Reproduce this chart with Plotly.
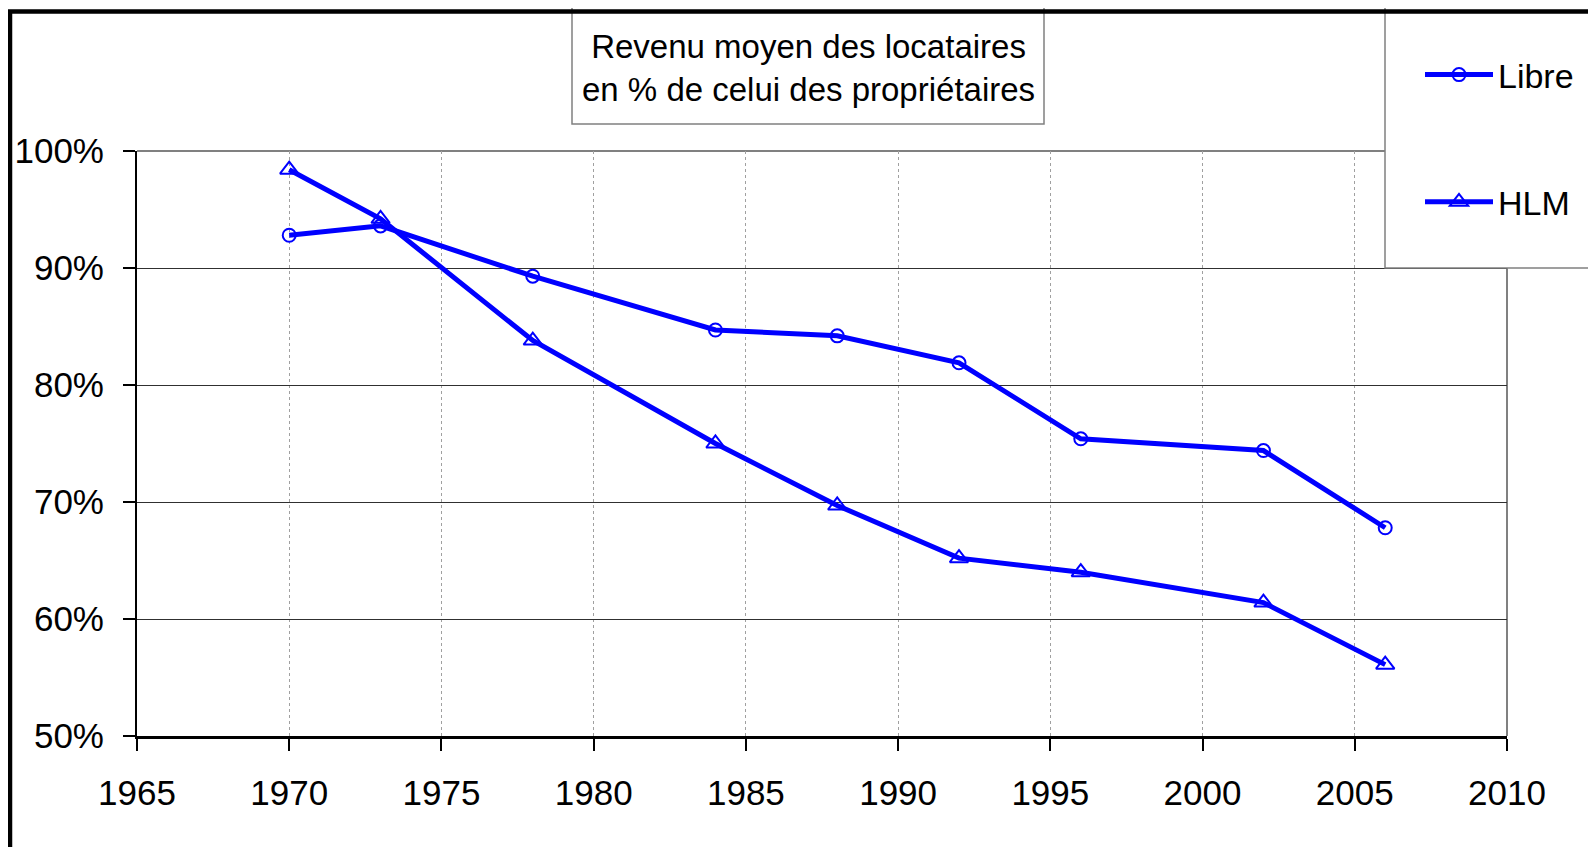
import plotly.graph_objects as go

years = [1970, 1973, 1978, 1984, 1988, 1992, 1996, 2002, 2006]
libre = [92.8, 93.6, 89.3, 84.7, 84.2, 81.9, 75.4, 74.4, 67.8]
hlm = [98.4, 94.2, 83.8, 75.0, 69.7, 65.2, 64.0, 61.4, 56.1]
series_names = ["Libre", "HLM"]
title_lines = ["Revenu moyen des locataires", "en % de celui des propriétaires"]
x_ticks = [1965, 1970, 1975, 1980, 1985, 1990, 1995, 2000, 2005, 2010]
y_ticks = [50, 60, 70, 80, 90, 100]

# page has an 8px body margin; work in page pixels and convert
OFF = 8
PW, PH = 1596, 847
W, H = PW - OFF, PH - OFF
L, R, T, B = 137, 1507, 151, 736  # plot area in page pixels
pw, ph = R - L, B - T

def px(x):
    return (x - L) / pw

def py(y):
    return (B - y) / ph

FONT = "Liberation Sans, Arial, sans-serif"
BLUE = "#0000FF"

fig = go.Figure()
fig.add_trace(go.Scatter(
    x=years, y=libre, name=series_names[0], mode="lines+markers", legendgroup="a",
    line=dict(color=BLUE, width=5),
    marker=dict(symbol="circle-open", size=13, color=BLUE, line=dict(width=2, color=BLUE)),
))
fig.add_trace(go.Scatter(
    x=years, y=hlm, name=series_names[1], mode="lines+markers", legendgroup="b",
    line=dict(color=BLUE, width=5),
    marker=dict(symbol="triangle-up-open", size=16, color=BLUE, line=dict(width=2, color=BLUE)),
))

shapes = [
    # legend box (white, covers plot top right)
    dict(type="rect", xref="paper", yref="paper", x0=px(1385), x1=px(1700), y0=py(268), y1=py(5),
         line=dict(color="#808080", width=1.5), fillcolor="white", layer="above"),
    # title box
    dict(type="rect", xref="paper", yref="paper", x0=px(572), x1=px(1044), y0=py(124), y1=py(5),
         line=dict(color="#808080", width=1.5), fillcolor="white", layer="above"),
    # top border of plot (100% line)
    dict(type="line", xref="paper", yref="paper", x0=0, x1=1, y0=1, y1=1,
         line=dict(color="#808080", width=2), layer="below"),
    # right border of plot
    dict(type="line", xref="paper", yref="paper", x0=1, x1=1, y0=0, y1=1,
         line=dict(color="#808080", width=2), layer="below"),
    # outer frame
    dict(type="rect", xref="paper", yref="paper", x0=px(10), x1=px(1700), y0=py(900), y1=py(11.5),
         line=dict(color="black", width=4.5), fillcolor="rgba(0,0,0,0)", layer="above"),
]

fig.update_layout(
    width=W, height=H,
    margin=dict(l=L - OFF, r=PW - R, t=T - OFF, b=PH - B, pad=0, autoexpand=False),
    paper_bgcolor="white", plot_bgcolor="white",
    font=dict(family=FONT, size=34, color="black"),
    showlegend=True,
    legend=dict(x=px(1420), y=py(46), xanchor="left", yanchor="top",
                bgcolor="rgba(0,0,0,0)", borderwidth=0, tracegroupgap=80,
                itemwidth=68, font=dict(size=34, family=FONT, color="black")),
    shapes=shapes,
    annotations=[dict(
        text="<br>".join(title_lines), xref="paper", yref="paper",
        x=px(808), y=py(68), xanchor="center", yanchor="middle", showarrow=False,
        font=dict(size=33, family=FONT, color="black"),
    )],
    xaxis=dict(
        range=[1965, 2010], tickvals=x_ticks, ticktext=[str(v) for v in x_ticks],
        showgrid=True, gridcolor="#A0A0A0", griddash="dot", gridwidth=1,
        showline=True, linecolor="black", linewidth=2.5,
        ticks="outside", ticklen=12, tickwidth=1.5, tickcolor="black",
        ticklabelstandoff=12, zeroline=False,
        tickfont=dict(size=35, family=FONT, color="black"),
    ),
    yaxis=dict(
        range=[50, 100], tickvals=y_ticks, ticktext=[f"{v}%" for v in y_ticks],
        showgrid=True, gridcolor="#303030", gridwidth=1.2,
        showline=True, linecolor="black", linewidth=2,
        ticks="outside", ticklen=12, tickwidth=1.5, tickcolor="black",
        ticklabelstandoff=12, zeroline=False,
        tickfont=dict(size=35, family=FONT, color="black"),
    ),
)

fig.write_html("out.html")
